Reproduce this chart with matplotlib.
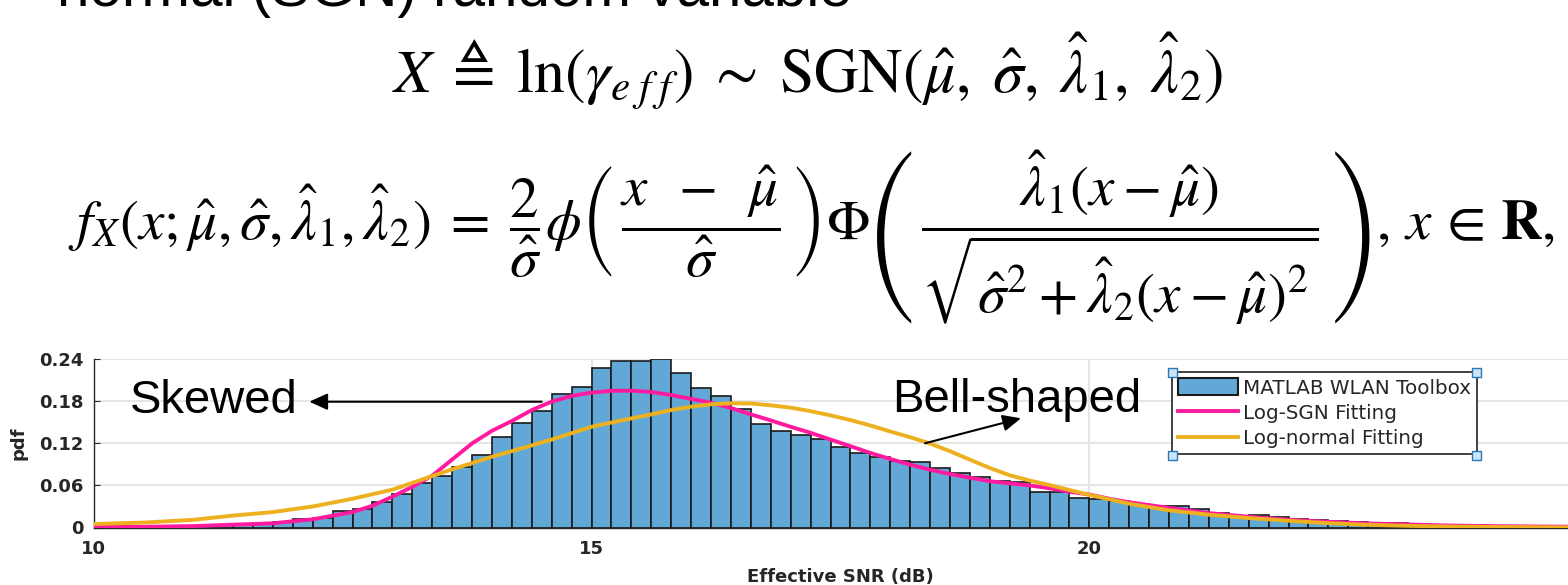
import matplotlib
matplotlib.use("Agg")
import matplotlib.pyplot as plt
from matplotlib.patches import Patch, Rectangle, FancyArrowPatch
from matplotlib.lines import Line2D

# ---------------- data ----------------
bin_left = [11.0, 11.2, 11.4, 11.6, 11.8, 12.0, 12.2, 12.4, 12.6, 12.8,
            13.0, 13.2, 13.4, 13.6, 13.8, 14.0, 14.2, 14.4, 14.6, 14.8,
            15.0, 15.2, 15.4, 15.6, 15.8, 16.0, 16.2, 16.4, 16.6, 16.8,
            17.0, 17.2, 17.4, 17.6, 17.8, 18.0, 18.2, 18.4, 18.6, 18.8,
            19.0, 19.2, 19.4, 19.6, 19.8, 20.0, 20.2, 20.4, 20.6, 20.8,
            21.0, 21.2, 21.4, 21.6, 21.8, 22.0, 22.2, 22.4, 22.6, 22.8,
            23.0, 23.2, 23.4, 23.6, 23.8, 24.0, 24.2, 24.4, 24.6]
bin_pdf = [0.002, 0.003, 0.005, 0.007, 0.008, 0.012, 0.014, 0.023, 0.026, 0.036,
           0.048, 0.064, 0.074, 0.087, 0.104, 0.129, 0.149, 0.166, 0.190, 0.200,
           0.228, 0.237, 0.237, 0.241, 0.220, 0.199, 0.188, 0.169, 0.147, 0.138,
           0.132, 0.126, 0.1145, 0.106, 0.100, 0.095, 0.093, 0.085, 0.078, 0.072,
           0.067, 0.065, 0.051, 0.051, 0.0425, 0.040, 0.038, 0.034, 0.030, 0.030,
           0.026, 0.020, 0.017, 0.018, 0.015, 0.012, 0.011, 0.009, 0.008, 0.007,
           0.006, 0.0045, 0.004, 0.0035, 0.003, 0.0025, 0.002, 0.0015, 0.001]
bin_width = 0.2

sgn_x = [10.0, 10.5, 11.0, 11.4, 11.8, 12.2, 12.6, 12.8, 13.0, 13.2, 13.4, 13.6,
         13.8, 14.0, 14.2, 14.4, 14.6, 14.8, 15.0, 15.2, 15.4, 15.6, 15.8, 16.0,
         16.2, 16.4, 16.6, 16.8, 17.0, 17.2, 17.4, 17.6, 17.8, 18.0, 18.2, 18.4,
         18.6, 18.8, 19.0, 19.2, 19.4, 19.6, 19.8, 20.0, 20.2, 20.4, 20.8, 21.2,
         21.6, 22.0, 22.4, 22.8, 23.2, 23.6, 24.0, 24.4, 25.0]
sgn_pdf = [0.001, 0.001, 0.002, 0.004, 0.006, 0.0117, 0.022, 0.031, 0.044, 0.058, 0.074, 0.097,
           0.120, 0.138, 0.152, 0.1676, 0.1796, 0.1877, 0.1925, 0.195, 0.1952, 0.1934, 0.189, 0.1835,
           0.178, 0.1705, 0.1614, 0.1528, 0.1437, 0.1351, 0.1255, 0.116, 0.1064, 0.0978, 0.0897, 0.0825,
           0.0763, 0.071, 0.066, 0.063, 0.060, 0.056, 0.051, 0.047, 0.041, 0.036, 0.028, 0.0205,
           0.0154, 0.011, 0.0081, 0.0057, 0.0043, 0.0029, 0.002, 0.0015, 0.001]

logn_x = [10.0, 10.5, 11.0, 11.4, 11.8, 12.2, 12.6, 13.0, 13.34, 13.6, 14.0, 14.3,
          14.6, 15.0, 15.4, 15.6, 15.8, 16.0, 16.2, 16.4, 16.6, 16.8, 17.0, 17.2,
          17.4, 17.6, 17.8, 18.0, 18.2, 18.4, 18.6, 18.8, 19.0, 19.2, 19.4, 19.6,
          19.8, 20.0, 20.4, 20.8, 21.2, 21.6, 22.0, 22.4, 22.8, 23.2, 23.6, 24.0, 25.0]
logn_pdf = [0.005, 0.007, 0.011, 0.017, 0.022, 0.030, 0.041, 0.054, 0.0705, 0.083, 0.101, 0.113,
            0.1255, 0.1437, 0.1557, 0.1614, 0.1676, 0.1724, 0.1758, 0.1772, 0.177, 0.1743, 0.171, 0.166,
            0.160, 0.1533, 0.1456, 0.137, 0.1288, 0.1198, 0.1088, 0.0968, 0.0849, 0.0745, 0.067, 0.0605,
            0.0535, 0.0465, 0.034, 0.0245, 0.0183, 0.0135, 0.0096, 0.0062, 0.0038, 0.0024, 0.0014, 0.0008, 0.0]

x_ticks = [10, 15, 20]
y_ticks = [0, 0.06, 0.12, 0.18, 0.24]
y_tick_labels = ['0', '0.06', '0.12', '0.18', '0.24']
legend_labels = ['MATLAB WLAN Toolbox', 'Log-SGN Fitting', 'Log-normal Fitting']

# ---------------- style ----------------
W, H = 1568, 585
BAR_C = '#62a8d6'
PINK = '#ff1aa0'
ORANGE = '#edb120'
AX_C = '#262626'

plt.rcParams['mathtext.fontset'] = 'stix'
plt.rcParams['font.family'] = ['DejaVu Sans']

fig = plt.figure(figsize=(W / 100, H / 100), dpi=100)
fig.patch.set_facecolor('white')


def fx(px):
    return px / W


def fy(py):
    return 1 - py / H


# ---------------- chart ----------------
x0, x_unit = 93.7, 99.57
y0, y_top = 527.5, 359.3
ax = fig.add_axes([fx(x0), fy(y0), 15 * x_unit / W, (y0 - y_top) / H])
ax.set_xlim(10, 25)
ax.set_ylim(0, 0.24)

ax.bar(bin_left, bin_pdf, width=bin_width, align='edge', color=BAR_C,
       edgecolor='#1a1a1a', linewidth=1.2, zorder=2)
ax.plot(sgn_x, sgn_pdf, color=PINK, lw=2.8, zorder=3, solid_capstyle='butt')
ax.plot(logn_x, logn_pdf, color=ORANGE, lw=2.8, zorder=4, solid_capstyle='butt')

ax.set_axisbelow(True)
ax.grid(True, color='#e3e3e3', linewidth=1.3)
for s in ['top', 'right']:
    ax.spines[s].set_visible(False)
for s in ['left', 'bottom']:
    ax.spines[s].set_color(AX_C)
    ax.spines[s].set_linewidth(1.0)

ax.set_xticks(x_ticks)
ax.set_xticklabels([str(v) for v in x_ticks])
ax.set_yticks(y_ticks)
ax.set_yticklabels(y_tick_labels)
ax.tick_params(axis='both', direction='in', length=4, colors=AX_C, labelsize=13)
ax.tick_params(axis='x', pad=9)
ax.tick_params(axis='y', pad=7)
for lab in ax.get_xticklabels() + ax.get_yticklabels():
    lab.set_fontweight('bold')

ax.set_xlabel('Effective SNR (dB)', fontsize=13, fontweight='bold', color=AX_C, labelpad=7)
ax.set_ylabel('pdf', fontsize=13, fontweight='bold', color=AX_C)
ax.yaxis.set_label_coords((27 - x0) / (15 * x_unit), 0.5)

handles = [Patch(facecolor=BAR_C, edgecolor='#1a1a1a', linewidth=1.5),
           Line2D([], [], color=PINK, lw=2.8),
           Line2D([], [], color=ORANGE, lw=2.8)]
lg_l, lg_t, lg_r, lg_b = 1172.3, 372.3, 1476.7, 455.7
leg = ax.legend(handles, legend_labels, loc='upper left', mode='expand',
                bbox_to_anchor=(fx(lg_l), fy(lg_b), (lg_r - lg_l) / W, (lg_b - lg_t) / H),
                bbox_transform=fig.transFigure,
                frameon=True, fancybox=False, edgecolor='#333333', framealpha=1,
                fontsize=14.3, handlelength=3.0, handleheight=0.95, handletextpad=0.25,
                labelspacing=0.3, borderpad=0.3, borderaxespad=0)
leg.get_frame().set_linewidth(1.3)
for t in leg.get_texts():
    t.set_color(AX_C)

# selection handles on the legend corners
for (cx, cy) in [(lg_l, lg_t), (lg_r, lg_t), (lg_l, lg_b), (lg_r, lg_b)]:
    s = 9
    fig.patches.append(Rectangle((fx(cx - s / 2), fy(cy + s / 2)), s / W, s / H,
                                 transform=fig.transFigure, facecolor='#cfe3f4',
                                 edgecolor='#2a78b8', linewidth=1.0, zorder=10))

# ---------------- annotations ----------------
fig.text(fx(130), fy(412.7), 'Skewed', fontsize=34, family='Liberation Sans',
         va='baseline', ha='left', color='black')
fig.text(fx(892.3), fy(411.7), 'Bell-shaped', fontsize=34, family='Liberation Sans',
         va='baseline', ha='left', color='black')

arrow_kw = dict(arrowstyle='-|>,head_length=1.1,head_width=0.5', lw=1.5,
                color='black', shrinkA=0, shrinkB=0)
fig.add_artist(FancyArrowPatch(
    (fx(541.7), fy(401.7)), (fx(309.3), fy(401.7)), transform=fig.transFigure,
    mutation_scale=10, **arrow_kw))
fig.add_artist(FancyArrowPatch(
    (fx(925), fy(443.3)), (fx(1021), fy(418.3)), transform=fig.transFigure,
    mutation_scale=10, **arrow_kw))

# ---------------- slide text ----------------
fig.text(fx(57), fy(6), 'normal (SGN) random variable', fontsize=42,
         family='Liberation Sans', va='baseline', ha='left', color='black')

eq1 = (r'$X\;\triangleq\;\ln(\gamma_{e\;f\;f})\;\sim\;'
       r'\mathrm{SGN}(\hat{\mu},\;\hat{\sigma},\;\hat{\lambda}_1,\;\hat{\lambda}_2)$')
fig.text(fx(808), fy(71), eq1, fontsize=44.5, ha='center', va='center', color='black')

eq2 = (r'$f_X(x;\hat{\mu},\hat{\sigma},\hat{\lambda}_1,\hat{\lambda}_2)\;=\;'
       r'\dfrac{2}{\hat{\sigma}}\phi\left(\,\dfrac{x\;\;-\;\;\hat{\mu}}{\hat{\sigma}}\,\right)'
       r'\Phi\left(\,\dfrac{\hat{\lambda}_1(x\:-\:\hat{\mu})}'
       r'{\sqrt{\hat{\sigma}^2\:+\:\hat{\lambda}_2(x\:-\:\hat{\mu})^2}}\,\right),\,x\,\in\,\mathbf{R},$')
fig.text(fx(68), fy(238), eq2, fontsize=41, ha='left', va='center', color='black')

fig.savefig('out.png', dpi=100, facecolor='white')
